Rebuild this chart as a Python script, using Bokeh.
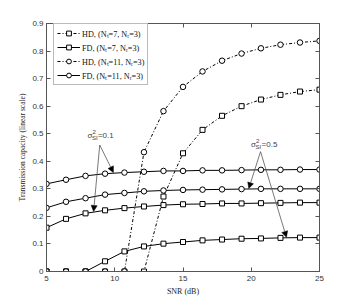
from bokeh.plotting import figure
from bokeh.models import (LinearAxis, FixedTicker, Legend, LegendItem, Arrow,
                          NormalHead, Label, Range1d)
from bokeh.embed import file_html
from bokeh.resources import INLINE

snr = [5, 6.43, 7.86, 9.29, 10.71, 12.14, 13.57, 15, 16.43, 17.86, 19.29, 20.71, 22.14, 23.57, 25]

hd_7 = [0, 0, 0, 0, 0, 0, 0.272, 0.429, 0.514, 0.565, 0.600, 0.624, 0.641, 0.653, 0.660]
hd_11 = [0, 0, 0, 0, 0, 0.433, 0.582, 0.670, 0.726, 0.765, 0.791, 0.810, 0.823, 0.831, 0.837]
fd_7_s01 = [0.159, 0.191, 0.211, 0.222, 0.230, 0.236, 0.241, 0.244, 0.245, 0.247, 0.247, 0.248, 0.249, 0.250, 0.250]
fd_7_s05 = [0, 0, 0, 0.037, 0.073, 0.091, 0.101, 0.107, 0.113, 0.116, 0.119, 0.120, 0.122, 0.123, 0.123]
fd_11_s01 = [0.318, 0.333, 0.347, 0.355, 0.359, 0.362, 0.365, 0.365, 0.367, 0.367, 0.368, 0.369, 0.369, 0.370, 0.370]
fd_11_s05 = [0.231, 0.253, 0.266, 0.279, 0.285, 0.291, 0.294, 0.296, 0.297, 0.298, 0.299, 0.300, 0.300, 0.300, 0.300]

legend_labels = ["HD, (N\u209c=7, N\u1d63=3)", "FD, (N\u209c=7, N\u1d63=3)",
                 "HD, (N\u209c=11, N\u1d63=3)", "FD, (N\u209c=11, N\u1d63=3)"]

x_ticks = [5, 10, 15, 20, 25]
x_tick_labels = ["5", "10", "15", "20", "25"]
y_ticks = [0, 0.1, 0.2, 0.3, 0.4, 0.5, 0.6, 0.7, 0.8, 0.9]
y_tick_labels = ["0", "0.1", "0.2", "0.3", "0.4", "0.5", "0.6", "0.7", "0.8", "0.9"]

x_label = "SNR (dB)"
y_label = "Transmission capacity (linear scale)"

# annotation: (text value, text x, text y, origin x, origin y, tips)
ann_01 = ("=0.1", 8.0, 0.495, 8.9, 0.459, [(9.9, 0.359), (8.45, 0.218)])
ann_05 = ("=0.5", 19.99, 0.461, 20.68, 0.435, [(19.82, 0.301), (22.58, 0.124)])

AX = "#555555"
TXT = "#333333"

p = figure(width=348, height=298, output_backend="svg", toolbar_location=None,
           x_range=Range1d(5, 25), y_range=Range1d(0, 0.9),
           min_border_left=46, min_border_right=29, min_border_top=23, min_border_bottom=26)
p.outline_line_color = AX
p.outline_line_width = 1
p.xgrid.visible = False
p.ygrid.visible = False
p.background_fill_color = "white"
p.border_fill_color = "white"

def style_axis(ax, ticks, labels, show_labels=True):
    ax.ticker = FixedTicker(ticks=ticks)
    ax.major_tick_in = 4
    ax.major_tick_out = 0
    ax.minor_tick_in = 0
    ax.minor_tick_out = 0
    ax.axis_line_color = AX
    ax.major_tick_line_color = AX
    ax.major_label_text_font = "Liberation Sans"
    ax.major_label_text_font_size = "8px"
    ax.major_label_text_color = TXT
    if show_labels:
        ax.major_label_overrides = {t: l for t, l in zip(ticks, labels)}
    else:
        ax.major_label_overrides = {t: "" for t in ticks}
        ax.major_label_standoff = 0

style_axis(p.xaxis[0], x_ticks, x_tick_labels)
style_axis(p.yaxis[0], y_ticks, y_tick_labels)
p.xaxis[0].major_label_standoff = 4
p.yaxis[0].major_label_standoff = 3
p.xaxis.axis_label = x_label
p.yaxis.axis_label = y_label
for ax in (p.xaxis[0], p.yaxis[0]):
    ax.axis_label_text_font = "Liberation Serif"
    ax.axis_label_text_font_size = "8px"
    ax.axis_label_text_font_style = "normal"
    ax.axis_label_text_color = "#222222"
p.yaxis[0].axis_label_text_font_size = "7.5px"
p.xaxis[0].axis_label_standoff = 3
p.yaxis[0].axis_label_standoff = 2

top = LinearAxis()
style_axis(top, x_ticks, x_tick_labels, show_labels=False)
p.add_layout(top, "above")
right = LinearAxis()
style_axis(right, y_ticks, y_tick_labels, show_labels=False)
p.add_layout(right, "right")

DASH = "3 2 1 2"
series = [
    (hd_7, "square", DASH, 0),
    (fd_7_s01, "square", "solid", 1),
    (fd_7_s05, "square", "solid", 1),
    (hd_11, "circle", DASH, 2),
    (fd_11_s01, "circle", "solid", 3),
    (fd_11_s05, "circle", "solid", 3),
]
legend_rends = {0: [], 1: [], 2: [], 3: []}
for ys, marker, dash, li in series:
    l = p.line(snr, ys, line_color="black", line_width=1, line_dash=dash)
    s = p.scatter(snr, ys, marker=marker, size=5 if marker == "square" else 5.5,
                  fill_color="white", line_color="black", line_width=1)
    if not legend_rends[li]:
        legend_rends[li] = [l, s]

items = [LegendItem(label=legend_labels[i], renderers=legend_rends[i]) for i in range(4)]
legend = Legend(items=items, location=(7, 186))
legend.label_text_font = "Liberation Serif"
legend.label_text_font_size = "8.2px"
legend.label_text_color = "#111111"
legend.label_height = 12
legend.label_standoff = 2
legend.glyph_width = 23
legend.glyph_height = 12
legend.spacing = 2
legend.padding = 3
legend.margin = 0
legend.border_line_color = "#777777"
legend.border_line_width = 1
legend.background_fill_color = "white"
legend.background_fill_alpha = 1
p.add_layout(legend, "center")

for val, tx, ty, ox, oy, tips in [ann_01, ann_05]:
    for (ex, ey) in tips:
        p.add_layout(Arrow(x_start=ox, y_start=oy, x_end=ex, y_end=ey,
                           line_color="#555555", line_width=0.8,
                           end=NormalHead(size=6, fill_color="black", line_color="black", line_width=0.5)))
    common = dict(text_font="Liberation Sans", text_color="#444444", text_baseline="middle")
    p.add_layout(Label(x=tx, y=ty, text="\u03c3", text_font_size="8px", **common))
    p.add_layout(Label(x=tx, y=ty, x_offset=5, y_offset=3.5, text="2", text_font_size="6px", **common))
    p.add_layout(Label(x=tx, y=ty, x_offset=4.5, y_offset=-2.5, text="SI", text_font_size="6px", **common))
    p.add_layout(Label(x=tx, y=ty, x_offset=10.5, text=val, text_font_size="8px", **common))

open("out.html", "w").write(file_html(p, INLINE))
